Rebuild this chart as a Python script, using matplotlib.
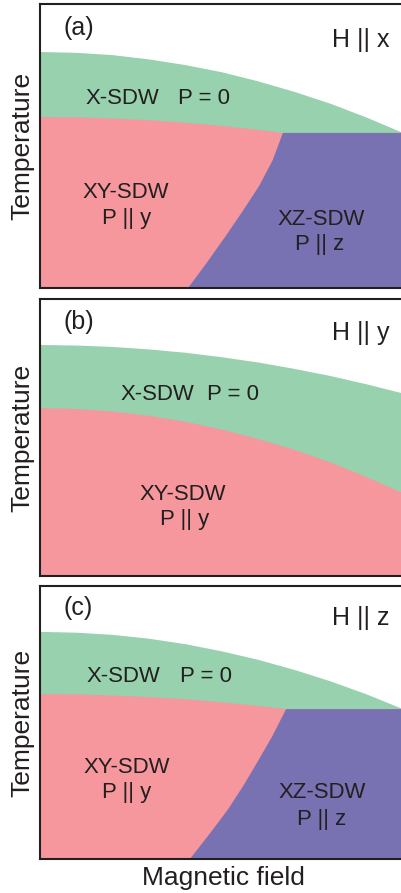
import matplotlib
matplotlib.use('Agg')
import matplotlib.pyplot as plt
from matplotlib.patches import Polygon

plt.rcParams['font.family'] = ['Liberation Sans', 'DejaVu Sans']

W, H = 401, 893
GREEN = '#97d1ad'
PINK = '#f5979d'
PURPLE = '#7871b2'
INK = '#231f20'

# ---------------- data (field and temperature in arbitrary units, 0..1) -------------
# panel (a)  H || x
a_upper_H = [0.0, 0.1, 0.2, 0.3, 0.4, 0.5, 0.6, 0.7, 0.8, 0.9, 1.0]
a_upper_T = [0.831, 0.828, 0.820, 0.805, 0.785, 0.760, 0.728, 0.691, 0.649, 0.600, 0.546]
a_lower_H = [0.0, 0.1, 0.2, 0.3, 0.4, 0.5, 0.6, 0.669]
a_lower_T = [0.602, 0.601, 0.597, 0.591, 0.582, 0.571, 0.557, 0.546]
a_split_H = [0.669, 0.641, 0.604, 0.558, 0.510, 0.460, 0.408]
a_split_T = [0.546, 0.450, 0.360, 0.270, 0.180, 0.090, 0.0]

# panel (b)  H || y
b_upper_H = [0.0, 0.1, 0.2, 0.3, 0.4, 0.5, 0.6, 0.7, 0.8, 0.9, 1.0]
b_upper_T = [0.834, 0.832, 0.827, 0.818, 0.806, 0.790, 0.771, 0.748, 0.722, 0.692, 0.659]
b_lower_H = [0.0, 0.1, 0.2, 0.3, 0.4, 0.5, 0.6, 0.7, 0.8, 0.9, 1.0]
b_lower_T = [0.606, 0.603, 0.594, 0.578, 0.557, 0.529, 0.495, 0.456, 0.410, 0.357, 0.299]

# panel (c)  H || z
c_upper_H = [0.0, 0.1, 0.2, 0.3, 0.4, 0.5, 0.6, 0.7, 0.8, 0.9, 1.0]
c_upper_T = [0.832, 0.829, 0.821, 0.807, 0.787, 0.761, 0.730, 0.693, 0.651, 0.603, 0.549]
c_lower_H = [0.0, 0.1, 0.2, 0.3, 0.4, 0.5, 0.6, 0.678]
c_lower_T = [0.604, 0.603, 0.599, 0.593, 0.585, 0.574, 0.561, 0.549]
c_split_H = [0.678, 0.640, 0.601, 0.561, 0.517, 0.466, 0.413]
c_split_T = [0.549, 0.450, 0.360, 0.270, 0.180, 0.090, 0.0]

panel_tags = ['(a)', '(b)', '(c)']
field_dirs = ['H || x', 'H || y', 'H || z']
phase_x = 'X-SDW'
phase_p0 = 'P = 0'
phase_xy = 'XY-SDW'
phase_py = 'P || y'
phase_xz = 'XZ-SDW'
phase_pz = 'P || z'
ylab = 'Temperature'
xlab = 'Magnetic field'

# ---------------- figure ----------------
fig = plt.figure(figsize=(W / 100, H / 100), dpi=100)


def px_axes(top, bottom, left=40, right=403):
    return fig.add_axes([left / W, 1 - bottom / H, (right - left) / W, (bottom - top) / H])


def style(ax):
    ax.set_xlim(0, 1)
    ax.set_ylim(0, 1)
    ax.set_xticks([])
    ax.set_yticks([])
    for s in ax.spines.values():
        s.set_linewidth(1.5)
        s.set_color(INK)
        s.set_zorder(5)


def ftext(x, y, s, size, ha='center', **kw):
    fig.text(x / W, 1 - y / H, s, fontsize=size, ha=ha, va='baseline', color=INK, **kw)


def draw_three(ax, upH, upT, loH, loT, spH, spT):
    top = list(zip(upH, upT)) + [(upH[-1], 0), (0, 0)]
    ax.add_patch(Polygon(top, closed=True, fc=GREEN, ec='none', zorder=1))
    red = [(0, 0)] + list(zip(loH, loT)) + [(1.0, loT[-1]), (1.0, 0)]
    ax.add_patch(Polygon(red, closed=True, fc=PINK, ec='none', zorder=2))
    purple = list(zip(spH, spT)) + [(1.0, 0), (1.0, spT[0])]
    ax.add_patch(Polygon(purple, closed=True, fc=PURPLE, ec='none', zorder=3))


def draw_two(ax, upH, upT, loH, loT):
    top = list(zip(upH, upT)) + [(upH[-1], 0), (0, 0)]
    ax.add_patch(Polygon(top, closed=True, fc=GREEN, ec='none', zorder=1))
    red = [(0, 0)] + list(zip(loH, loT)) + [(loH[-1], 0)]
    ax.add_patch(Polygon(red, closed=True, fc=PINK, ec='none', zorder=2))


axa = px_axes(4, 288)
style(axa)
draw_three(axa, a_upper_H, a_upper_T, a_lower_H, a_lower_T, a_split_H, a_split_T)

axb = px_axes(299, 576)
style(axb)
draw_two(axb, b_upper_H, b_upper_T, b_lower_H, b_lower_T)

axc = px_axes(586, 859)
style(axc)
draw_three(axc, c_upper_H, c_upper_T, c_lower_H, c_lower_T, c_split_H, c_split_T)

# ---------------- texts ----------------
REG = 15.9
TAG = 18
DIR = 18
LAB = 19

# panel a
ftext(78.5, 35.5, panel_tags[0], TAG)
ftext(390, 46.5, field_dirs[0], DIR, ha='right')
ftext(85.5, 104, phase_x, REG, ha='left')
ftext(178.5, 104, phase_p0, REG, ha='left')
ftext(126, 198, phase_xy, REG)
ftext(127, 224, phase_py, REG)
ftext(321, 225, phase_xz, REG)
ftext(320, 250, phase_pz, REG)

# panel b
ftext(79, 328.5, panel_tags[1], TAG)
ftext(390, 340, field_dirs[1], DIR, ha='right')
ftext(120.5, 400, phase_x, REG, ha='left')
ftext(207, 400, phase_p0, REG, ha='left')
ftext(182.5, 500.5, phase_xy, REG)
ftext(185, 525, phase_py, REG)

# panel c
ftext(78.5, 615.5, panel_tags[2], TAG)
ftext(390, 625.5, field_dirs[2], DIR, ha='right')
ftext(86.5, 682, phase_x, REG, ha='left')
ftext(180, 682, phase_p0, REG, ha='left')
ftext(127, 773, phase_xy, REG)
ftext(127, 798, phase_py, REG)
ftext(322, 798, phase_xz, REG)
ftext(322, 825, phase_pz, REG)

# axis labels
for top, bottom in [(4, 288), (299, 576), (586, 859)]:
    fig.text(22 / W, 1 - (top + bottom) / 2 / H, ylab, fontsize=LAB, rotation=90,
             ha='center', va='center', color=INK)
ftext(223.5, 885, xlab, LAB)

fig.savefig('out.png', dpi=100)
